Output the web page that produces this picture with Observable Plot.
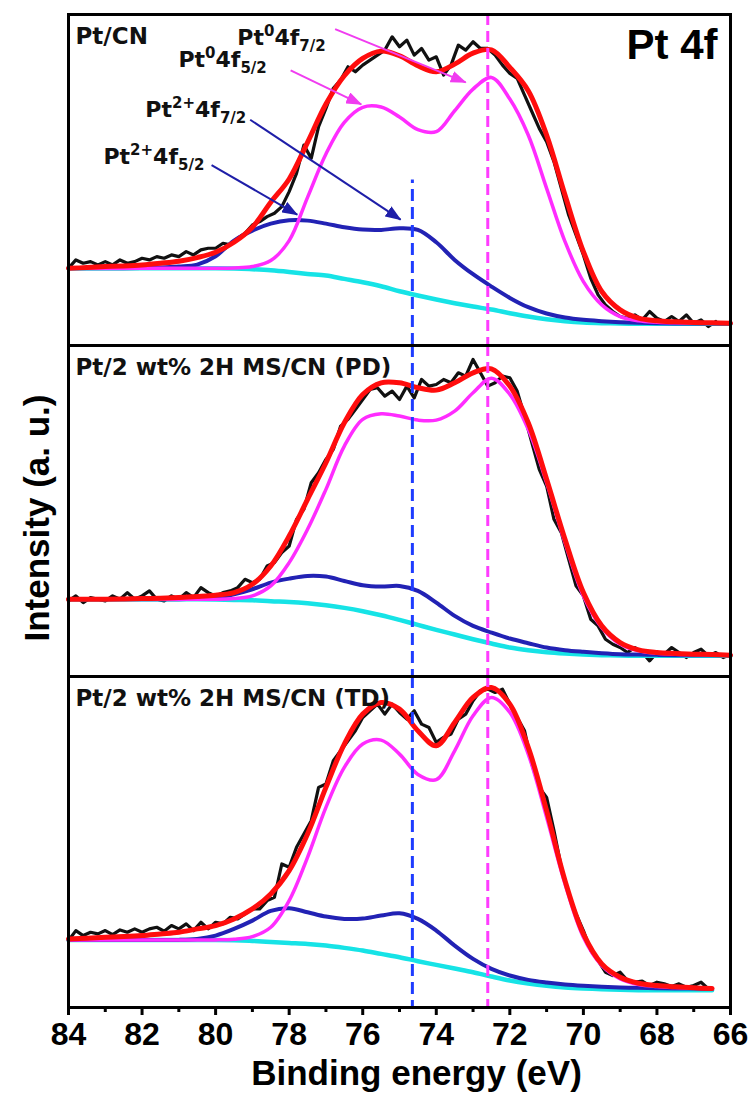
<!DOCTYPE html>
<html><head><meta charset="utf-8">
<script src="https://cdn.jsdelivr.net/npm/d3@7"></script>
<script src="https://cdn.jsdelivr.net/npm/@observablehq/plot@0.6"></script>
<style>
html,body{margin:0;padding:0;background:#fff;}
#chart svg{display:block;}
</style></head><body><div id="chart"></div>
<script>
// ---- data ----
const panelKeys = ["CN", "PD", "TD"];
const panelLabels = ["Pt/CN", "Pt/2 wt% 2H MS/CN (PD)", "Pt/2 wt% 2H MS/CN (TD)"];
const coreLevel = "Pt 4f";
const xLabel = "Binding energy (eV)";
const yLabel = "Intensity (a. u.)";
const majorTicks = [84, 82, 80, 78, 76, 74, 72, 70, 68, 66];
const minorTicks = [83, 81, 79, 77, 75, 73, 71, 69, 67];

const fitEnergy = [84,83.5,83,82.5,82,81.5,81,80.5,80,79.5,79,78.5,78,77.5,77,76.5,76,75.5,75,74.5,74,73.5,73,72.5,72,71.5,71,70.5,70,69.5,69,68.5,68,67.5,67,66.5,66];
const rawEnergy = [84,83.8,83.6,83.4,83.2,83,82.8,82.6,82.4,82.2,
  82,81.8,81.6,81.4,81.2,81,80.8,80.6,80.4,80.2,
  80,79.8,79.6,79.4,79.2,79,78.8,78.6,78.4,78.2,
  78,77.8,77.6,77.4,77.2,77,76.8,76.6,76.4,76.2,
  76,75.8,75.6,75.4,75.2,75,74.8,74.6,74.4,74.2,
  74,73.8,73.6,73.4,73.2,73,72.8,72.6,72.4,72.2,
  72,71.8,71.6,71.4,71.2,71,70.8,70.6,70.4,70.2,
  70,69.8,69.6,69.4,69.2,69,68.8,68.6,68.4,68.2,
  68,67.8,67.6,67.4,67.2,67,66.8,66.6,66.4,66.2,
  66];

// Pt/CN
const cnRaw = [232,257,247,252,242,252,242,257,247,252,
  262,257,267,262,272,267,282,272,287,292,
  292,307,302,322,337,362,372,387,397,417,
  462,517,602,562,657,712,772,797,837,822,
  842,857,872,887,927,897,917,872,892,857,
  867,812,842,902,887,912,892,892,872,842,
  817,802,752,702,652,612,552,472,392,332,
  272,202,152,122,102,87,82,92,77,102,
  82,72,87,72,92,67,77,57,72];
const cnEnvelope = [232,234,237,239,242,247,253,264,280,310,355,430,500,610,725,810,862,884,870,840,822,845,878,888,835,765,632,452,282,162,107,82,74,71,69,68,67];
const cnPt0 = [232,232,232,232,232,232,232,232,232,233,237,255,315,445,575,670,715,716,686,648,642,705,770,805,740,632,472,312,192,122,87,74,70,68,67,67,67];
const cnPt2 = [232,232,232,232,233,234,237,243,268,315,345,366,376,375,366,355,348,347,352,347,310,257,214,177,143,115,96,84,77,73,70,68,67,66,66,66,66];
const cnBackground = [232,232,232,232,232,232,232,232,232,231,229,226,221,215,210,200,190,178,163,150,138,127,117,108,97,87,79,73,69,67,66,65,65,65,65,65,65];

// Pt/2 wt% 2H MS/CN (PD)
const pdRaw = [227,242,222,237,232,227,242,232,252,232,
  242,257,232,227,242,232,252,237,267,252,
  242,252,257,267,292,282,292,332,342,372,
  392,472,502,582,612,652,682,752,772,802,
  832,862,867,842,857,832,872,837,892,872,
  877,892,882,912,902,952,912,872,882,902,
  897,857,782,702,622,572,472,432,352,272,
  242,172,152,112,97,87,72,87,72,47,
  72,67,87,72,57,72,82,62,72,57,
  67];
const pdEnvelope = [232,232,232,233,234,235,237,240,244,252,277,332,422,532,642,762,847,882,882,867,860,882,912,924,872,762,592,412,252,152,102,80,72,69,67,66,64];
const pdPt0 = [232,232,232,232,232,232,232,232,232,234,242,272,342,442,562,692,772,789,782,770,770,797,852,896,847,742,582,402,242,147,97,77,70,67,66,65,64];
const pdPt2 = [232,232,232,232,232,232,232,234,237,247,262,282,294,302,300,287,274,270,272,257,222,182,152,132,114,100,87,79,74,70,67,66,65,64,64,64,64];
const pdBackground = [232,232,232,232,232,232,232,232,231,230,229,226,224,220,214,206,196,184,170,155,140,126,112,99,87,79,73,69,66,64,63,62,62,62,62,62,62];

// Pt/2 wt% 2H MS/CN (TD)
const tdRaw = [201,231,216,226,221,231,219,233,226,236,
  226,236,241,229,246,236,251,231,256,236,
  256,251,271,266,281,296,296,321,331,431,
  421,481,521,561,661,671,741,771,801,831,
  871,891,911,881,911,886,866,891,851,841,
  796,811,821,866,881,921,951,956,946,956,
  911,871,831,731,661,631,531,421,341,281,
  231,171,141,106,96,106,81,76,79,66,
  76,71,63,71,61,66,76,56];
const tdEnvelope = [206,208,211,213,216,221,226,236,246,266,296,341,411,521,661,791,881,916,896,831,786,856,931,961,911,781,591,381,221,131,91,73,66,62,59,57];
const tdPt0 = [203,203,203,203,203,203,203,203,203,205,213,241,321,451,601,721,791,803,761,700,684,771,876,931,886,761,571,371,211,126,86,69,63,60,58,56];
const tdPt2 = [203,203,203,203,203,203,203,206,216,236,261,290,298,286,273,266,267,276,283,266,231,186,146,116,96,83,75,69,65,62,60,59,58,57,57,56];
const tdBackground = [203,203,203,203,203,203,203,203,203,202,200,197,194,191,186,179,171,161,151,139,128,117,106,93,81,72,65,60,57,55,53,52,52,52,52,52];

// reference lines
const pt0DashEnergy = 72.6;
const pt2DashEnergy = 74.65;
const pt2DashTopCN = 497;

// peak annotations in the Pt/CN panel
const annSup = ["0", "0", "2+", "2+"];
const annSub = ["7/2", "5/2", "7/2", "5/2"];
const annLabelEnergy = [79.41, 81.01, 81.91, 83.05];
const annLabelIntensity = [903, 837, 687, 546];
const annFromEnergy = [76.75, 77.96, 79.06, 80.11];
const annFromIntensity = [950, 826, 678, 542];
const annToEnergy = [73.2, 76.04, 74.97, 77.78];
const annToIntensity = [790, 724, 378, 393];

// ---- tables ----
const rawRows = [];
const fitRows = [];
[[cnRaw, "CN"], [pdRaw, "PD"], [tdRaw, "TD"]].forEach(([arr, p]) =>
  arr.forEach((v, i) => rawRows.push({panel: p, energy: rawEnergy[i], intensity: v})));
[["CN", cnEnvelope, cnPt0, cnPt2, cnBackground],
 ["PD", pdEnvelope, pdPt0, pdPt2, pdBackground],
 ["TD", tdEnvelope, tdPt0, tdPt2, tdBackground]].forEach(([p, env, p0, p2, bg]) => {
  [["envelope", env], ["pt0", p0], ["pt2", p2], ["background", bg]].forEach(([s, arr]) =>
    arr.forEach((v, i) => fitRows.push({panel: p, series: s, energy: fitEnergy[i], intensity: v})));
});
const panels = panelKeys.map((k, i) => ({panel: k, label: panelLabels[i]}));
const annotations = annSup.map((s, i) => ({
  panel: "CN", kind: i < 2 ? "pt0" : "pt2",
  plain: "Pt" + s + "4f" + annSub[i],
  x: annLabelEnergy[i], y: annLabelIntensity[i],
  x1: annFromEnergy[i], y1: annFromIntensity[i], x2: annToEnergy[i], y2: annToIntensity[i]
}));

const C = {raw: "#111111", background: "#16e3e6", pt2: "#2222b4", pt0: "#ff2cff", envelope: "#ff0d0d",
  dashPt0: "#ff3cff", dashPt2: "#1e3cff", arrowPt0: "#f03cf0", arrowPt2: "#1e1ea8"};
const fit = s => fitRows.filter(d => d.series === s);

const chart = Plot.plot({
  width: 751, height: 1097,
  marginLeft: 68, marginRight: 21, marginTop: 13, marginBottom: 90,
  style: {fontFamily: "'Liberation Sans', Arial, sans-serif", background: "#fff", color: "#000"},
  x: {domain: [84, 66], axis: null},
  y: {domain: [0, 994], axis: null},
  fy: {domain: panelKeys, padding: 0, axis: null},
  marks: [
    Plot.line(rawRows, {x: "energy", y: "intensity", fy: "panel", z: "panel", stroke: C.raw, strokeWidth: 3.2, strokeLinejoin: "round"}),
    Plot.line(fit("background"), {x: "energy", y: "intensity", fy: "panel", stroke: C.background, strokeWidth: 4.5, curve: "catmull-rom"}),
    Plot.line(fit("pt2"), {x: "energy", y: "intensity", fy: "panel", stroke: C.pt2, strokeWidth: 4, curve: "catmull-rom"}),
    Plot.line(fit("pt0"), {x: "energy", y: "intensity", fy: "panel", stroke: C.pt0, strokeWidth: 3.5, curve: "catmull-rom"}),
    Plot.line(fit("envelope"), {x: "energy", y: "intensity", fy: "panel", stroke: C.envelope, strokeWidth: 5, curve: "catmull-rom"}),
    Plot.ruleX([pt0DashEnergy], {stroke: C.dashPt0, strokeWidth: 3, strokeDasharray: "11,6"}),
    Plot.ruleX([{panel: "CN", x: pt2DashEnergy, y1: 0, y2: pt2DashTopCN}], {x: "x", y1: "y1", y2: "y2", fy: "panel", stroke: C.dashPt2, strokeWidth: 3, strokeDasharray: "12,6"}),
    Plot.ruleX([{panel: "PD", x: pt2DashEnergy}, {panel: "TD", x: pt2DashEnergy}], {x: "x", fy: "panel", stroke: C.dashPt2, strokeWidth: 3, strokeDasharray: "12,6"}),
    Plot.link(annotations.filter(d => d.kind === "pt0"), {x1: "x1", y1: "y1", x2: "x2", y2: "y2", fy: "panel", stroke: C.arrowPt0, strokeWidth: 2}),
    Plot.link(annotations.filter(d => d.kind === "pt2"), {x1: "x1", y1: "y1", x2: "x2", y2: "y2", fy: "panel", stroke: C.arrowPt2, strokeWidth: 2}),
    Plot.text(annotations, {x: "x", y: "y", fy: "panel", text: "plain", textAnchor: "start", lineAnchor: "bottom", fontFamily: "'DejaVu Sans', sans-serif", fontSize: 22, fontWeight: "bold", fill: "#111"}),
    Plot.frame({stroke: "#000", strokeWidth: 3}),
    Plot.text(panels, {fy: "panel", text: "label", frameAnchor: "top-left", dx: 7, dy: 13, lineAnchor: "top", fontFamily: "'DejaVu Sans', sans-serif", fontSize: 23, fontWeight: "bold", fill: "#111"}),
    Plot.text([{panel: "CN"}], {fy: "panel", text: () => coreLevel, frameAnchor: "top-right", dx: -13, dy: 15, lineAnchor: "top", fontSize: 42, fontWeight: "bold", fill: "#000"}),
    Plot.text([{panel: "PD"}], {fy: "panel", text: () => yLabel, frameAnchor: "left", textAnchor: "middle", rotate: -90, dx: -31, dy: 7, fontSize: 35, fontWeight: "bold", fill: "#000"}),
    Plot.text([{panel: "TD"}], {fy: "panel", text: () => xLabel, frameAnchor: "bottom", textAnchor: "middle", lineAnchor: "top", dx: 17, dy: 53, fontSize: 35, fontWeight: "bold", fill: "#000"}),
    Plot.axisX({ticks: majorTicks, tickSize: 8, tickPadding: 7, strokeWidth: 3, fontSize: 32, fontWeight: "bold", tickFormat: d => String(d), label: null, facetAnchor: "bottom", fill: "#000"}),
    Plot.axisX({ticks: minorTicks, tickSize: 5, strokeWidth: 3, tickFormat: () => "", label: null, facetAnchor: "bottom"})
  ]
});

// enlarge tick labels (axis text)
const tickStrings = majorTicks.map(String);
chart.querySelectorAll("text").forEach(t => {
  if (tickStrings.includes(t.textContent)) {
    t.setAttribute("font-size", "32");
    t.setAttribute("font-weight", "bold");
    t.style.fontSize = "32px";
    t.style.fontWeight = "bold";
    t.style.fontFamily = "'Liberation Sans', Arial, sans-serif";
  }
});

// filled arrowheads for the annotation links
const NS = "http://www.w3.org/2000/svg";
const defs = document.createElementNS(NS, "defs");
[["head-pt0", C.arrowPt0], ["head-pt2", C.arrowPt2]].forEach(([id, color]) => {
  const m = document.createElementNS(NS, "marker");
  m.setAttribute("id", id);
  m.setAttribute("viewBox", "0 0 16 12");
  m.setAttribute("refX", "15");
  m.setAttribute("refY", "6");
  m.setAttribute("markerWidth", "16");
  m.setAttribute("markerHeight", "12");
  m.setAttribute("markerUnits", "userSpaceOnUse");
  m.setAttribute("orient", "auto");
  const p = document.createElementNS(NS, "path");
  p.setAttribute("d", "M0,0L16,6L0,12Z");
  p.setAttribute("fill", color);
  m.appendChild(p);
  defs.appendChild(m);
});
chart.insertBefore(defs, chart.firstChild);
const linkGroups = chart.querySelectorAll('g[aria-label="link"]');
linkGroups.forEach((g, i) => g.querySelectorAll("path").forEach(p =>
  p.setAttribute("marker-end", `url(#${i === 0 ? "head-pt0" : "head-pt2"})`)));

// sub/superscripts in annotation labels
chart.querySelectorAll("text").forEach(t => {
  const a = annotations.find(d => d.plain === t.textContent);
  if (!a) return;
  const i = annotations.indexOf(a);
  t.textContent = "";
  const parts = [["Pt", 22, 0], [annSup[i], 15, -9], ["4f", 22, 9], [annSub[i], 15, 6]];
  parts.forEach(([s, fs, dy]) => {
    const ts = document.createElementNS(NS, "tspan");
    ts.setAttribute("font-size", fs);
    if (dy) ts.setAttribute("dy", dy);
    ts.textContent = s;
    t.appendChild(ts);
  });
});

document.getElementById("chart").appendChild(chart);
</script>
</body></html>
